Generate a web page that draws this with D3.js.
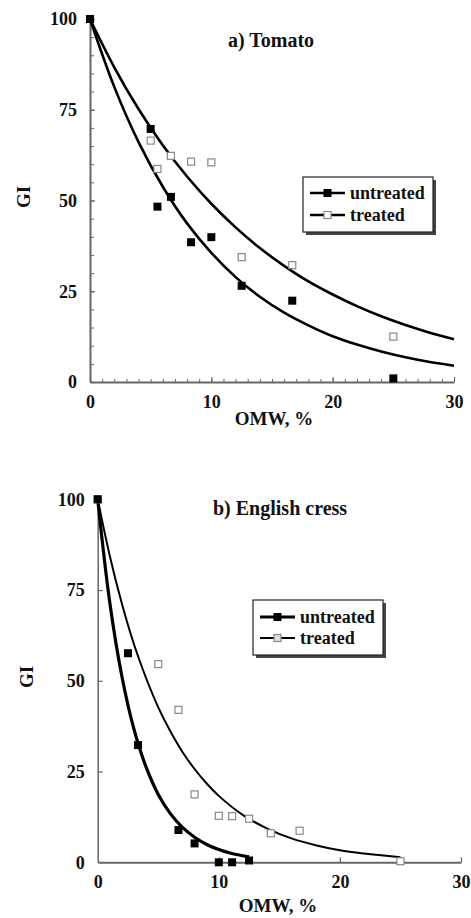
<!DOCTYPE html>
<html><head><meta charset="utf-8">
<script src="https://cdn.jsdelivr.net/npm/d3@7"></script>
<style>
html,body{margin:0;padding:0;background:#fff;}
svg{display:block;}
text{font-family:"Liberation Serif","Times New Roman",serif;font-weight:bold;fill:#111;}
</style></head>
<body>
<svg id="c" width="471" height="918"></svg>
<script>
// ---- Data ----
const tomatoUntreatedX = [0, 5, 5.56, 6.67, 8.33, 10, 12.5, 16.67, 25];
const tomatoUntreatedY = [100, 69.7, 48.3, 51, 38.5, 39.9, 26.5, 22.4, 1.0];
const tomatoTreatedX = [0, 5, 5.56, 6.67, 8.33, 10, 12.5, 16.67, 25];
const tomatoTreatedY = [100, 66.5, 58.7, 62.3, 60.7, 60.5, 34.4, 32.2, 12.5];
const tomatoFitX = [0, 2, 4, 6, 8, 10, 12, 14, 16, 18, 20, 22, 24, 26, 28, 30];
const tomatoFitUntreated = [100, 81.3, 66.1, 53.8, 43.7, 35.6, 28.9, 23.5, 19.1, 15.6, 12.6, 10.3, 8.4, 6.8, 5.5, 4.5];
const tomatoFitTreated = [100, 86.7, 75.2, 65.2, 56.6, 49.1, 42.6, 36.9, 32.0, 27.7, 24.1, 20.9, 18.1, 15.7, 13.6, 11.8];

const cressUntreatedX = [0, 2.5, 3.33, 6.67, 8, 10, 11.1, 12.5];
const cressUntreatedY = [100, 57.6, 32.3, 8.9, 5.2, 0, 0, 0.5];
const cressTreatedX = [0, 5, 6.67, 8, 10, 11.1, 12.5, 14.3, 16.67, 25];
const cressTreatedY = [100, 54.6, 42, 18.7, 12.8, 12.7, 12, 8, 8.7, 0.3];
const cressFitUntreatedX = [0, 1, 2, 3, 4, 5, 6, 7, 8, 9, 10, 11, 12, 12.5];
const cressFitUntreated = [100, 71.5, 51.2, 36.6, 26.2, 18.7, 13.4, 9.6, 6.9, 4.9, 3.5, 2.5, 1.8, 1.5];
const cressFitTreatedX = [0, 1, 2, 3, 4, 5, 6, 7, 8, 9, 10, 12, 14, 16, 18, 20, 22, 25];
const cressFitTreated = [100, 84.4, 71.2, 60.0, 50.7, 42.7, 36.1, 30.4, 25.7, 21.7, 18.3, 13.0, 9.3, 6.6, 4.7, 3.3, 2.4, 1.4];

const xTickValues = [0, 10, 20, 30];
const yTickValues = [0, 25, 50, 75, 100];
const seriesNames = ["untreated", "treated"];
const xLabel = "OMW, %";
const yLabel = "GI";
const titles = ["a) Tomato", "b) English cress"];

const svg = d3.select("#c");
const zip = (xs, ys) => xs.map((x, i) => [x, ys[i]]);

function panel(cfg) {
  const g = svg.append("g");
  const x = d3.scaleLinear().domain([0, 30]).range([cfg.x0, cfg.x1]);
  const y = d3.scaleLinear().domain([0, 100]).range([cfg.y0, cfg.y1]);

  if (cfg.minor) {
    g.append("g").attr("transform", `translate(0,${cfg.y0})`)
      .call(d3.axisBottom(x).tickValues(d3.range(0, 31, 1)).tickSize(-3).tickFormat(""))
      .call(a => a.select(".domain").remove())
      .call(a => a.selectAll("line").attr("stroke", "#666").attr("stroke-width", 1));
    g.append("g").attr("transform", `translate(${cfg.x0},0)`)
      .call(d3.axisLeft(y).tickValues(d3.range(0, 101, 5)).tickSize(-4).tickFormat(""))
      .call(a => a.select(".domain").remove())
      .call(a => a.selectAll("line").attr("stroke", "#666").attr("stroke-width", 1));
  }
  const xa = g.append("g").attr("transform", `translate(0,${cfg.y0})`)
    .call(d3.axisBottom(x).tickValues(xTickValues).tickSize(-5).tickPadding(13).tickSizeOuter(0));
  xa.select(".domain").attr("stroke", "#666").attr("stroke-width", 2);
  xa.selectAll("line").attr("stroke", "#666").attr("stroke-width", 1.2);
  xa.selectAll("text").attr("font-size", 18).attr("fill", "#111")
    .attr("font-family", '"Liberation Serif","Times New Roman",serif').attr("font-weight", "bold");
  const ya = g.append("g").attr("transform", `translate(${cfg.x0},0)`)
    .call(d3.axisLeft(y).tickValues(yTickValues).tickSize(-5).tickPadding(13).tickSizeOuter(0));
  ya.select(".domain").attr("stroke", "#666").attr("stroke-width", cfg.yAxisW);
  ya.selectAll("line").attr("stroke", "#666").attr("stroke-width", 1.2);
  ya.selectAll("text").attr("font-size", 18).attr("fill", "#111")
    .attr("font-family", '"Liberation Serif","Times New Roman",serif').attr("font-weight", "bold");
  if (!cfg.minor) {
    xa.selectAll(".tick").filter(d => d === 0).select("line").remove();
    ya.selectAll(".tick").filter(d => d === 0 || d === 100).select("line").remove();
  }

  const line = d3.line().x(d => x(d[0])).y(d => y(d[1])).curve(d3.curveCatmullRom);
  g.append("path").datum(zip(cfg.fitTX, cfg.fitT)).attr("d", line)
    .attr("fill", "none").attr("stroke", "#000").attr("stroke-width", cfg.wT);
  g.append("path").datum(zip(cfg.fitUX, cfg.fitU)).attr("d", line)
    .attr("fill", "none").attr("stroke", "#000").attr("stroke-width", cfg.wU);

  g.selectAll(".t").data(zip(cfg.tX, cfg.tY)).join("rect")
    .attr("x", d => x(d[0]) - 3.5).attr("y", d => y(d[1]) - 3.5)
    .attr("width", 7).attr("height", 7)
    .attr("fill", "#fff").attr("stroke", "#888").attr("stroke-width", 1.2);
  g.selectAll(".u").data(zip(cfg.uX, cfg.uY)).join("rect")
    .attr("x", d => x(d[0]) - 4).attr("y", d => y(d[1]) - 4)
    .attr("width", 8).attr("height", 8).attr("fill", "#000");

  g.append("text").attr("x", cfg.titleX).attr("y", cfg.titleY).attr("font-size", 20).text(cfg.title);
  g.append("text").attr("x", cfg.xlX).attr("y", cfg.xlY).attr("text-anchor", "middle")
    .attr("font-size", 19).text(xLabel);
  g.append("text").attr("transform", `translate(${cfg.ylX},${cfg.ylY}) rotate(-90)`)
    .attr("text-anchor", "middle").attr("font-size", 19).text(yLabel);

  const L = cfg.leg;
  g.append("rect").attr("x", L.x + 3).attr("y", L.y + 3).attr("width", L.w).attr("height", L.h).attr("fill", "#444");
  g.append("rect").attr("x", L.x).attr("y", L.y).attr("width", L.w).attr("height", L.h)
    .attr("fill", "#fff").attr("stroke", "#222").attr("stroke-width", 1.2);
  seriesNames.forEach((name, i) => {
    const cy = L.y + L.r0 + i * L.dy;
    g.append("line").attr("x1", L.x + L.lx0).attr("x2", L.x + L.lx1).attr("y1", cy).attr("y2", cy)
      .attr("stroke", "#000").attr("stroke-width", i === 0 ? cfg.wU : cfg.wT);
    const mx = (L.lx0 + L.lx1) / 2 + L.x;
    if (i === 0) {
      g.append("rect").attr("x", mx - 4).attr("y", cy - 4).attr("width", 8).attr("height", 8).attr("fill", "#000");
    } else {
      g.append("rect").attr("x", mx - 3.5).attr("y", cy - 3.5).attr("width", 7).attr("height", 7)
        .attr("fill", L.tFill).attr("stroke", "#888").attr("stroke-width", 1.2);
    }
    g.append("text").attr("x", L.x + L.tx).attr("y", cy + 6).attr("font-size", 18).text(name);
  });
}

panel({
  x0: 90, x1: 454, y0: 382, y1: 19, minor: true, yAxisW: 2,
  fitTX: tomatoFitX, fitT: tomatoFitTreated, fitUX: tomatoFitX, fitU: tomatoFitUntreated,
  wT: 2.6, wU: 2.6,
  tX: tomatoTreatedX, tY: tomatoTreatedY, uX: tomatoUntreatedX, uY: tomatoUntreatedY,
  title: titles[0], titleX: 228, titleY: 47,
  xlX: 274, xlY: 425, ylX: 30, ylY: 197,
  leg: { x: 303, y: 177, w: 130, h: 55, r0: 16, dy: 22, lx0: 7, lx1: 42, tx: 47, tFill: "#fff" }
});

panel({
  x0: 97.7, x1: 461, y0: 862.3, y1: 499.3, minor: false, yAxisW: 1.5,
  fitTX: cressFitTreatedX, fitT: cressFitTreated, fitUX: cressFitUntreatedX, fitU: cressFitUntreated,
  wT: 2, wU: 3.2,
  tX: cressTreatedX, tY: cressTreatedY, uX: cressUntreatedX, uY: cressUntreatedY,
  title: titles[1], titleX: 213, titleY: 515,
  xlX: 278, xlY: 912, ylX: 33, ylY: 677,
  leg: { x: 253, y: 600, w: 130, h: 55, r0: 17, dy: 21, lx0: 7, lx1: 42, tx: 47, tFill: "#ddd" }
});
</script>
</body></html>
